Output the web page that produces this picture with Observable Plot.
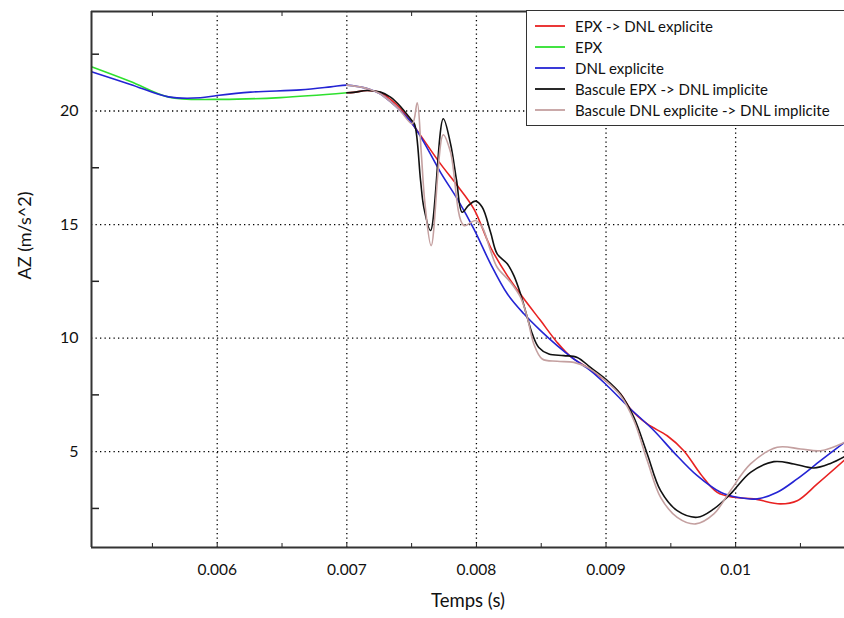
<!DOCTYPE html>
<html>
<head>
<meta charset="utf-8">
<script src="https://cdn.jsdelivr.net/npm/d3@7"></script>
<script src="https://cdn.jsdelivr.net/npm/@observablehq/plot@0.6"></script>
<style>
  html, body { margin: 0; padding: 0; background: #fff; }
  #wrap { position: relative; width: 844px; height: 618px; overflow: hidden; font-family: Lato, "Open Sans", sans-serif; }
  #legend { position: absolute; left: 526px; top: 10px; width: 340px; height: 116px; background: #fff;
            border: 1.5px solid #333; box-sizing: border-box; padding-top: 4px; }
  .row { height: 21px; display: flex; align-items: center; font-size: 15px; color: #111; }
  .sw { display: block; width: 30px; height: 4px; margin-left: 8px; margin-right: 10px; flex: none; }
</style>
</head>
<body>
<div id="wrap"><div id="chart"></div><div id="legend"></div></div>
<script>
// ---- Series names and colours (legend order) ----
const seriesNames = ["EPX -> DNL explicite", "EPX", "DNL explicite", "Bascule EPX -> DNL implicite", "Bascule DNL explicite -> DNL implicite"];
const seriesColors = ["#e82222", "#2ee02e", "#2424d4", "#111111", "#c4a0a0"];

// ---- Axis ticks ----
const xMajor = [0.006, 0.007, 0.008, 0.009, 0.01];
const xLabels = ["0.006", "0.007", "0.008", "0.009", "0.01"];
const xMinor = [0.0055, 0.006, 0.0065, 0.007, 0.0075, 0.008, 0.0085, 0.009, 0.0095, 0.01, 0.0105];
const yMajor = [5, 10, 15, 20];
const yMinor = [2.5, 7.5, 12.5, 17.5, 22.5];

// ---- EPX -> DNL explicite (red) ----
const tRed = [0.007, 0.007052, 0.007157, 0.00726, 0.007337, 0.007414, 0.007505, 0.007723, 0.007852, 0.00798, 0.008109, 0.008238, 0.008366, 0.008495, 0.008623, 0.008726, 0.008855, 0.008996, 0.009112, 0.009189, 0.009318, 0.009472, 0.0096, 0.009729, 0.009858, 0.009986, 0.01014, 0.010346, 0.010475, 0.01063, 0.01084];
const azRed = [20.80, 20.82, 20.90, 20.81, 20.51, 20.11, 19.44, 17.67, 16.72, 15.69, 14.00, 12.75, 11.73, 10.77, 9.81, 9.19, 8.71, 8.13, 7.54, 6.88, 6.22, 5.70, 5.04, 4.02, 3.21, 2.99, 2.92, 2.70, 2.84, 3.58, 4.63];

// ---- EPX (green) ----
const tGreen = [0.00503, 0.005331, 0.005627, 0.006, 0.006488, 0.007];
const azGreen = [21.95, 21.30, 20.61, 20.51, 20.59, 20.80];

// ---- DNL explicite (blue) ----
const tBlue = [0.00503, 0.005331, 0.005624, 0.005871, 0.006, 0.006257, 0.006643, 0.006875, 0.007, 0.007103, 0.00718, 0.007257, 0.007334, 0.007411, 0.007505, 0.007594, 0.007723, 0.007852, 0.00798, 0.008109, 0.008238, 0.008366, 0.008495, 0.008623, 0.008752, 0.00888, 0.008996, 0.009112, 0.009189, 0.009369, 0.009523, 0.009704, 0.009884, 0.010012, 0.010167, 0.010321, 0.010475, 0.010655, 0.01084];
const azBlue = [21.73, 21.17, 20.62, 20.58, 20.68, 20.83, 20.93, 21.06, 21.14, 21.06, 20.95, 20.76, 20.42, 20.02, 19.44, 18.63, 17.30, 16.13, 14.81, 13.27, 11.95, 11.07, 10.33, 9.67, 9.08, 8.57, 7.98, 7.32, 6.88, 5.93, 4.97, 3.94, 3.21, 2.99, 2.92, 3.21, 3.80, 4.60, 5.41];

// ---- Bascule EPX -> DNL implicite (black) ----
const tBlack = [0.007, 0.007052, 0.007157, 0.00726, 0.007337, 0.007414, 0.007497, 0.007523, 0.007569, 0.007594, 0.007646, 0.007744, 0.0078, 0.007847, 0.00789, 0.007939, 0.007993, 0.008045, 0.008109, 0.00816, 0.008238, 0.008289, 0.00834, 0.008392, 0.008431, 0.008481, 0.008559, 0.008674, 0.008778, 0.00888, 0.008996, 0.009112, 0.009215, 0.009318, 0.009421, 0.009549, 0.009704, 0.009832, 0.009961, 0.010115, 0.010295, 0.010449, 0.010603, 0.010732, 0.01084];
const azBlack = [20.80, 20.82, 20.90, 20.83, 20.61, 20.20, 19.61, 19.41, 16.94, 15.76, 14.74, 19.66, 18.56, 16.94, 15.54, 15.84, 16.03, 15.76, 14.66, 13.71, 13.27, 12.75, 11.95, 10.92, 10.19, 9.59, 9.30, 9.23, 9.15, 8.71, 8.20, 7.54, 6.51, 4.90, 3.28, 2.40, 2.11, 2.48, 3.14, 4.09, 4.56, 4.46, 4.28, 4.48, 4.78];

// ---- Bascule DNL explicite -> DNL implicite (brown) ----
const tBrown = [0.007, 0.007103, 0.00718, 0.007257, 0.007334, 0.007411, 0.007505, 0.007543, 0.007574, 0.007602, 0.007651, 0.007744, 0.0078, 0.007903, 0.007993, 0.008045, 0.008109, 0.00816, 0.008263, 0.00834, 0.008392, 0.008443, 0.008508, 0.008623, 0.008752, 0.008855, 0.008996, 0.009112, 0.009215, 0.009318, 0.009421, 0.009549, 0.009691, 0.009832, 0.009961, 0.010115, 0.010321, 0.010501, 0.010655, 0.01084];
const azBrown = [21.14, 21.06, 20.95, 20.76, 20.42, 20.02, 19.44, 20.36, 18.19, 15.98, 14.07, 18.95, 18.19, 14.96, 15.18, 14.88, 13.85, 13.12, 12.46, 11.80, 10.92, 9.74, 9.08, 8.98, 8.93, 8.71, 8.13, 7.47, 6.37, 4.61, 2.99, 2.11, 1.82, 2.26, 3.29, 4.46, 5.19, 5.12, 5.04, 5.41];

// ---- Build a long table ----
const seriesT = [tRed, tGreen, tBlue, tBlack, tBrown];
const seriesAZ = [azRed, azGreen, azBlue, azBlack, azBrown];
const rows = [];
seriesNames.forEach((name, k) => {
  seriesT[k].forEach((t, i) => rows.push({series: name, t, az: seriesAZ[k][i]}));
});

const noText = () => "";
const grid = {stroke: "#000", strokeOpacity: 1, strokeWidth: 1.3, strokeDasharray: "1.3,3.2"};

const chart = Plot.plot({
  width: 844,
  height: 618,
  marginLeft: 91,
  marginTop: 11,
  marginRight: 0,
  marginBottom: 71,
  style: {fontFamily: "Lato, 'Open Sans', sans-serif", fontSize: "15px", color: "#111", background: "#fff"},
  x: {domain: [0.00503, 0.01084]},
  y: {domain: [0.78, 24.38]},
  color: {domain: seriesNames, range: seriesColors},
  marks: [
    Plot.gridX(xMajor, grid),
    Plot.gridY(yMajor, grid),
    Plot.axisX(xMajor, {tickSize: 0, tickPadding: 16, tickFormat: (d, i) => xLabels[i], label: null, fontSize: 15.5}),
    Plot.axisX(xMinor, {tickSize: -4, tickFormat: noText, label: null, stroke: "#222"}),
    Plot.axisX(xMinor.filter(d => !xMajor.includes(d)), {anchor: "top", tickSize: -4, tickFormat: noText, label: null, stroke: "#222"}),
    Plot.axisY(yMajor, {tickSize: 0, tickPadding: 13, label: null, fontSize: 16}),
    Plot.axisY(yMinor, {tickSize: -8, tickFormat: noText, label: null, stroke: "#222", strokeWidth: 1.5}),
    Plot.line(rows, {x: "t", y: "az", z: "series", stroke: "series", strokeWidth: 1.6, curve: "catmull-rom", clip: true}),
    Plot.ruleX([0.00503], {stroke: "#333", strokeWidth: 2}),
    Plot.ruleY([0.78], {stroke: "#333", strokeWidth: 2}),
    Plot.ruleY([24.38], {stroke: "#333", strokeWidth: 2}),
    Plot.text(["AZ (m/s^2)"], {frameAnchor: "left", dx: -66, rotate: -90, fontSize: 18, fill: "#111"}),
    Plot.text(["Temps (s)"], {frameAnchor: "bottom", dy: 59, fontSize: 18.5, fill: "#111"})
  ]
});
document.getElementById("chart").appendChild(chart);

// ---- Legend overlay (SVG swatches) ----
const NS = "http://www.w3.org/2000/svg";
const legend = document.getElementById("legend");
seriesNames.forEach((name, k) => {
  const row = document.createElement("div");
  row.className = "row";
  const sw = document.createElementNS(NS, "svg");
  sw.setAttribute("class", "sw");
  sw.setAttribute("width", "30");
  sw.setAttribute("height", "4");
  const ln = document.createElementNS(NS, "line");
  ln.setAttribute("x1", "0"); ln.setAttribute("x2", "30");
  ln.setAttribute("y1", "2"); ln.setAttribute("y2", "2");
  ln.setAttribute("stroke", seriesColors[k]);
  ln.setAttribute("stroke-width", "1.8");
  sw.appendChild(ln);
  const label = document.createElement("span");
  label.textContent = name;
  row.appendChild(sw);
  row.appendChild(label);
  legend.appendChild(row);
});
</script>
</body>
</html>
